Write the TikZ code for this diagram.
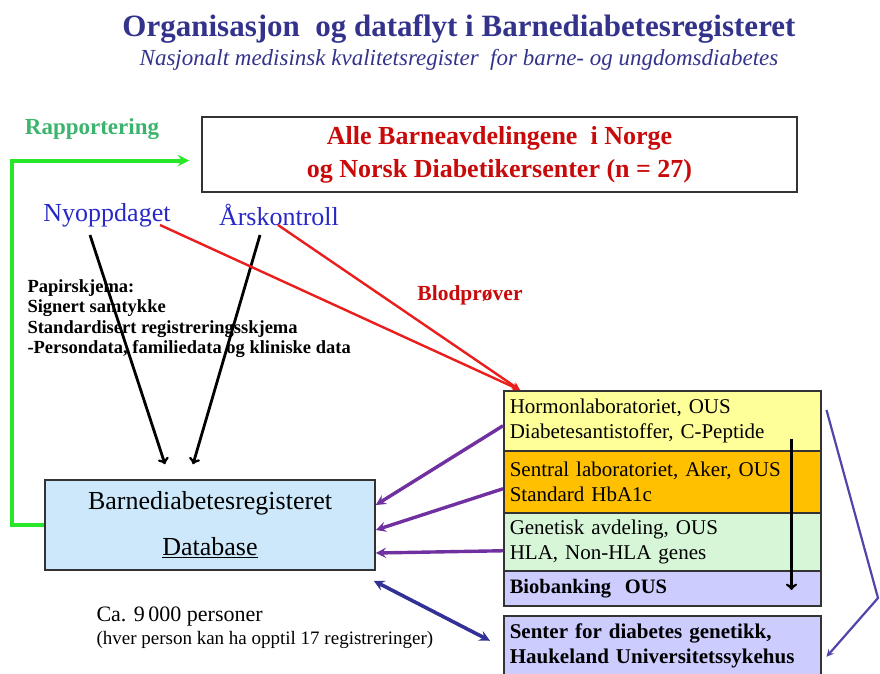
\documentclass[tikz,border=0pt]{standalone}
\usepackage{fontspec}
\setmainfont{Liberation Serif}
\usepackage{tikz}
\usetikzlibrary{positioning, arrows}

\definecolor{titleblue}{RGB}{51,51,140}
\definecolor{rapgreen}{RGB}{60,180,110}
\definecolor{linegreen}{RGB}{40,230,40}
\definecolor{textred}{RGB}{200,10,10}
\definecolor{linered}{RGB}{235,30,30}
\definecolor{kidblue}{RGB}{40,40,200}
\definecolor{purp}{RGB}{112,48,160}
\definecolor{navy}{RGB}{50,50,150}
\definecolor{sideblue}{RGB}{80,70,170}
\definecolor{hormonfill}{RGB}{255,255,153}
\definecolor{sentralfill}{RGB}{255,192,0}
\definecolor{genfill}{RGB}{215,245,215}
\definecolor{biofill}{RGB}{204,204,255}
\definecolor{dbfill}{RGB}{204,232,250}

\begin{document}
\begin{tikzpicture}[x=1pt,y=-1pt,
    lab/.style={draw=black!80, line width=1.5pt, anchor=north west, minimum width=317pt, text width=305pt,
        align=left, inner xsep=6pt, font=\fontsize{21}{25}\selectfont},
    kid/.style={text=kidblue, font=\fontsize{26}{28}\selectfont},
    black arrow/.style={-to, line width=2.8pt, black},
    red arrow/.style={-stealth, line width=2.4pt, linered},
    purple arrow/.style={-stealth, line width=3.4pt, purp}]
    \useasboundingbox (0,0) rectangle (880,673);

    % heading
    \node[text=titleblue, font=\bfseries\fontsize{31}{33}\selectfont] (title) at (459,29)
        {Organisasjon\ \ og dataflyt i Barnediabetesregisteret};
    \node[text=titleblue, font=\itshape\fontsize{23}{25}\selectfont] (subtitle) at (459,60)
        {Nasjonalt medisinsk kvalitetsregister\ \ for barne- og ungdomsdiabetes};

    % units and register
    \node[draw=black!80, line width=1.5pt, minimum width=595pt, minimum height=75pt, align=center,
        text=textred, font=\bfseries\fontsize{26}{33}\selectfont] (alle) at (499.5,154.5)
        {Alle Barneavdelingene\ \ i Norge\\og Norsk Diabetikersenter (n = 27)};
    \node[text=rapgreen, font=\bfseries\fontsize{23}{25}\selectfont] (rapp) at (92,129) {Rapportering};
    \node[kid] (nyopp) at (107,215) {Nyoppdaget};
    \node[kid] (aars) at (279,215) {Årskontroll};
    \node[anchor=north west, align=left, font=\bfseries\fontsize{18.5}{20.5}\selectfont] (papir) at (24,276)
        {Papirskjema:\\Signert samtykke\\Standardisert registreringsskjema\\-Persondata, familiedata og kliniske data};
    \node[text=textred, font=\bfseries\fontsize{21.5}{23}\selectfont] (blod) at (470,295) {Blodprøver};
    \node[draw=black!80, line width=1.5pt, fill=dbfill, minimum width=330pt, minimum height=90pt, align=center,
        font=\fontsize{26}{46}\selectfont] (db) at (210,525)
        {Barnediabetesregisteret\\\underline{Database}};
    \node[anchor=north west, align=left, font=\fontsize{22}{23}\selectfont] (antall) at (93,603)
        {Ca. 9\,000 personer\\{\fontsize{19}{20}\selectfont(hver person kan ha opptil 17 registreringer)}};

    % laboratories
    \node[lab, fill=hormonfill, minimum height=60pt] (hormon) at (503,390)
        {Hormonlaboratoriet, OUS\\Diabetesantistoffer, C-Peptide};
    \node[lab, fill=sentralfill, minimum height=62pt] (sentral) at (503,450)
        {Sentral laboratoriet, Aker, OUS\\Standard HbA1c};
    \node[lab, fill=genfill, minimum height=58pt] (gen) at (503,512)
        {Genetisk avdeling, OUS\\HLA, Non-HLA genes};
    \node[lab, fill=biofill, minimum height=35pt, font=\bfseries\fontsize{20.5}{22}\selectfont] (bio) at (503,570)
        {Biobanking\ \ OUS};
    \node[lab, fill=biofill, minimum height=60pt, font=\bfseries\fontsize{21}{25}\selectfont] (senter) at (503,615)
        {Senter for diabetes genetikk,\\Haukeland Universitetssykehus};
    \coordinate (knekk) at (878,598);

    % flows
    \draw[-stealth, line width=4pt, linegreen] (db.west) -- ++(-32,0) |- ([xshift=-12pt,yshift=-6pt]alle.west);
    \path[black arrow]
        ([shift={(-17,20)}]nyopp.center) edge ([xshift=-45pt,yshift=15pt]db.north)
        ([shift={(-19,20)}]aars.center) edge ([xshift=-17pt,yshift=15pt]db.north);
    \path[red arrow]
        ([shift={(53,10)}]nyopp.center) edge ([xshift=17pt]hormon.north west)
        ([shift={(-1,10)}]aars.center) edge ([xshift=17pt]hormon.north west);
    \path[purple arrow]
        ([yshift=-5pt]hormon.west) edge ([yshift=20pt]db.east)
        ([yshift=-7pt]sentral.west) edge ([yshift=-5pt]db.east)
        ([yshift=-9pt]gen.west) edge ([yshift=-28pt]db.east);
    \draw[-to, line width=2.8pt] ([xshift=-30pt,yshift=13pt]hormon.south east) -- ([xshift=-30pt,yshift=-20pt]bio.north east);
    \draw[stealth-stealth, line width=3.6pt, navy] ([xshift=-2pt,yshift=-10pt]db.south east) -- ([xshift=-13pt,yshift=5pt]senter.west);
    \draw[-stealth, line width=2.2pt, sideblue] ([xshift=5pt,yshift=-20pt]hormon.north east) -- (knekk) -- ([xshift=5pt,yshift=-11pt]senter.east);
\end{tikzpicture}
\end{document}
